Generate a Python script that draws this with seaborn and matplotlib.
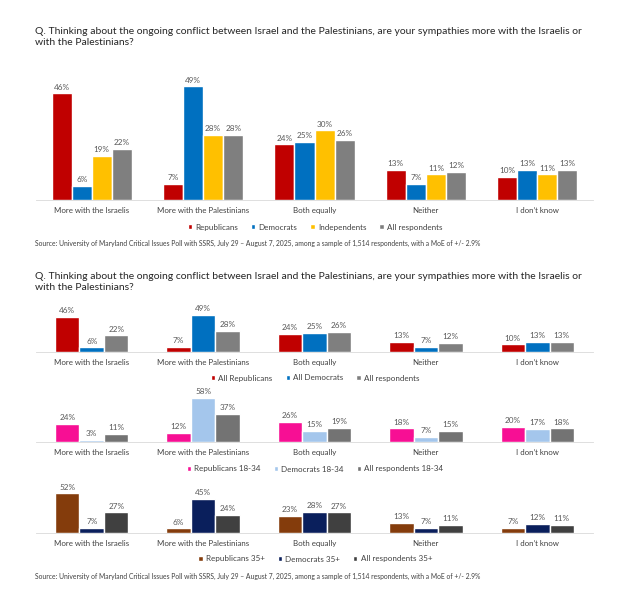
import pandas as pd
import matplotlib
matplotlib.use("Agg")
import matplotlib.pyplot as plt
import seaborn as sns

# data
categories = ["More with the Israelis", "More with the Palestinians",
              "Both equally", "Neither", "I don\u2019t know"]

# top chart
top_groups = ["Republicans", "Democrats", "Independents", "All respondents"]
rep = [46, 7, 24, 13, 10]
dem = [6, 49, 25, 7, 13]
ind = [19, 28, 30, 11, 11]
all_resp = [22, 28, 26, 12, 13]
top_colors = ["#C00000", "#0070C0", "#FFC000", "#7F7F7F"]

# panel 1: all ages
p1_groups = ["All Republicans", "All Democrats", "All respondents"]
p1_rep = [46, 7, 24, 13, 10]
p1_dem = [6, 49, 25, 7, 13]
p1_all = [22, 28, 26, 12, 13]
p1_colors = ["#C00000", "#0070C0", "#7F7F7F"]

# panel 2: 18-34
p2_groups = ["Republicans 18-34", "Democrats 18-34", "All respondents 18-34"]
p2_rep = [24, 12, 26, 18, 20]
p2_dem = [3, 58, 15, 7, 17]
p2_all = [11, 37, 19, 15, 18]
p2_colors = ["#F70F94", "#A4C6EC", "#737373"]

# panel 3: 35+
p3_groups = ["Republicans 35+", "Democrats 35+", "All respondents 35+"]
p3_rep = [52, 6, 23, 13, 7]
p3_dem = [7, 45, 28, 7, 12]
p3_all = [27, 24, 27, 11, 11]
p3_colors = ["#843C0C", "#0A1F5C", "#404040"]

question = ("Q. Thinking about the ongoing conflict between Israel and the Palestinians, "
            "are your sympathies more with the Israelis or\nwith the Palestinians?")
source = ("Source: University of Maryland Critical Issues Poll with SSRS, July 29 \u2013 August 7, 2025, "
          "among a sample of 1,514 respondents, with a MoE of +/- 2.9%")

FONT = "Lato"
TXT = "#404040"


def long_df(groups, series):
    rows = []
    for g, vals in zip(groups, series):
        for c, v in zip(categories, vals):
            rows.append({"category": c, "group": g, "value": v})
    return pd.DataFrame(rows)


def draw(ax, groups, series, colors, width, ylim, legend_y):
    df = long_df(groups, series)
    sns.barplot(data=df, x="category", y="value", hue="group",
                hue_order=groups, order=categories, palette=colors,
                width=width, saturation=1, ax=ax, legend=True)
    for cont in ax.containers:
        ax.bar_label(cont, fmt="%d%%", padding=2, fontsize=5.9,
                     color="#595959", family=FONT)
    ax.set_xlim(-0.5, len(categories) - 0.5)
    ax.set_ylim(*ylim)
    ax.set_xlabel("")
    ax.set_ylabel("")
    ax.set_yticks([])
    for s in ["top", "right", "left"]:
        ax.spines[s].set_visible(False)
    ax.spines["bottom"].set_color("#D9D9D9")
    ax.spines["bottom"].set_linewidth(0.6)
    ax.tick_params(axis="x", length=0, pad=5, labelsize=5.7, labelcolor=TXT)
    for lab in ax.get_xticklabels():
        lab.set_family(FONT)
    handles, labels = ax.get_legend_handles_labels()
    ax.get_legend().remove()
    ax.legend(handles, labels, ncol=len(groups), frameon=False,
              loc="center", bbox_to_anchor=(0.505, legend_y),
              bbox_transform=ax.figure.transFigure,
              handlelength=0.55, handleheight=0.55, handletextpad=0.4,
              columnspacing=1.6, prop={"family": FONT, "size": 5.8},
              labelcolor=TXT)


sns.set_style("white")
plt.rcParams["font.family"] = [FONT, "DejaVu Sans"]

fig = plt.figure(figsize=(6.24, 6.0), dpi=100)
W, H = 624.0, 600.0
left = 36 / W
width = 557 / W

# top chart: baseline at y=200px, ~2.32 px per point
ax0 = fig.add_axes([left, 1 - 200 / H, width, 52 * 2.32 / H])
draw(ax0, top_groups, [rep, dem, ind, all_resp], top_colors, 0.72,
     (0, 52), 1 - 227 / H)

# three small panels, ~0.76 px per point
pw = 62 * 0.76 / H
ax1 = fig.add_axes([left, 1 - 352 / H, width, pw])
draw(ax1, p1_groups, [p1_rep, p1_dem, p1_all], p1_colors, 0.66,
     (0, 62), 1 - 378 / H)
ax2 = fig.add_axes([left, 1 - 442 / H, width, pw])
draw(ax2, p2_groups, [p2_rep, p2_dem, p2_all], p2_colors, 0.66,
     (0, 62), 1 - 469 / H)
ax3 = fig.add_axes([left, 1 - 533 / H, width, pw])
draw(ax3, p3_groups, [p3_rep, p3_dem, p3_all], p3_colors, 0.66,
     (0, 62), 1 - 559 / H)

# titles and sources
fig.text(35 / W, 1 - 27 / H, question, ha="left", va="top", fontsize=7.5,
         color="#262626", linespacing=1.3)
fig.text(35 / W, 1 - 272 / H, question, ha="left", va="top", fontsize=7.5,
         color="#262626", linespacing=1.3)
fig.text(35 / W, 1 - 243 / H, source, ha="left", va="center", fontsize=4.9,
         color=TXT)
fig.text(35 / W, 1 - 576 / H, source, ha="left", va="center", fontsize=4.9,
         color=TXT)

plt.savefig("out.png", dpi=100)
